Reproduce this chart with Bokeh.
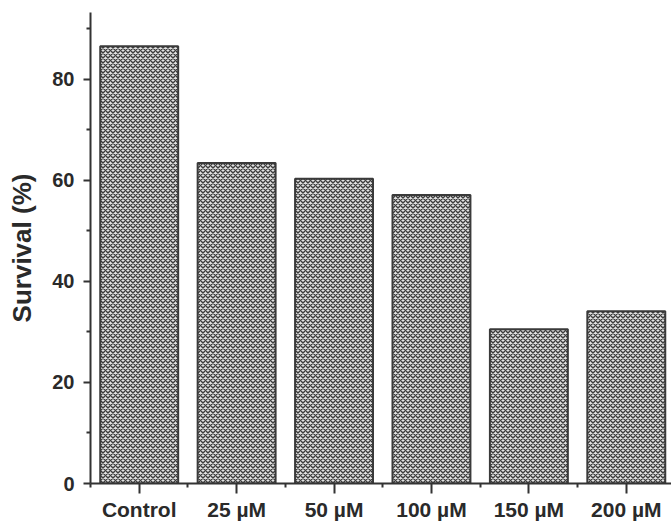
from bokeh.plotting import figure
from bokeh.models import Range1d, FixedTicker, ColumnDataSource
from bokeh.embed import file_html
from bokeh.resources import INLINE

categories = ["Control", "25 \u00b5M", "50 \u00b5M", "100 \u00b5M", "150 \u00b5M", "200 \u00b5M"]
survival = [86.5, 63.4, 60.3, 57.1, 30.5, 34.1]
y_ticks = [0, 20, 40, 60, 80]
y_minor = [10, 30, 50, 70, 90]

xpos = list(range(len(categories)))
src = ColumnDataSource(dict(x=xpos, top=survival, cat=categories))

p = figure(width=671, height=523, output_backend="svg", toolbar_location=None,
           x_range=Range1d(-0.5, len(categories) - 0.536), y_range=Range1d(0, 93.2),
           min_border_left=90, min_border_right=0, min_border_top=12, min_border_bottom=38)
p.background_fill_color = "white"
p.border_fill_color = "white"
p.outline_line_color = None
p.grid.visible = False

p.vbar(x="x", top="top", width=0.8, bottom=0, source=src,
       fill_color="#e2e2e2", line_color="#3a3a3a", line_width=2,
       hatch_pattern="diagonal_cross", hatch_scale=5, hatch_weight=1.4, hatch_color="#3c3c3c")

font = "Liberation Sans"
ax = p.xaxis[0]
ax.ticker = FixedTicker(ticks=xpos, minor_ticks=[i - 0.5 for i in range(len(categories) + 1)])
ax.major_label_overrides = {i: c for i, c in enumerate(categories)}
ax.major_label_text_font = font
ax.major_label_text_font_size = "21px"
ax.major_label_text_font_style = "bold"
ax.major_label_text_color = "#2a2a2a"
ax.major_label_standoff = 4
ax.axis_line_color = "#333333"
ax.axis_line_width = 2
ax.major_tick_line_color = "#333333"
ax.major_tick_line_width = 2
ax.major_tick_out = 10
ax.major_tick_in = 0
ax.minor_tick_line_color = "#333333"
ax.minor_tick_line_width = 2
ax.minor_tick_out = 4
ax.minor_tick_in = 0

ay = p.yaxis[0]
ay.ticker = FixedTicker(ticks=y_ticks, minor_ticks=y_minor)
ay.major_label_text_font = font
ay.major_label_text_font_size = "20px"
ay.major_label_text_font_style = "bold"
ay.major_label_text_color = "#2a2a2a"
ay.major_label_standoff = 9
ay.axis_label = "Survival (%)"
ay.axis_label_text_font = font
ay.axis_label_text_font_size = "26px"
ay.axis_label_text_font_style = "bold"
ay.axis_label_text_color = "#2a2a2a"
ay.axis_label_standoff = 12
ay.axis_line_color = "#333333"
ay.axis_line_width = 2
ay.major_tick_line_color = "#333333"
ay.major_tick_line_width = 2
ay.major_tick_out = 7
ay.major_tick_in = 0
ay.minor_tick_line_color = "#333333"
ay.minor_tick_line_width = 2
ay.minor_tick_out = 4
ay.minor_tick_in = 0

open("out.html", "w").write(file_html(p, INLINE))
